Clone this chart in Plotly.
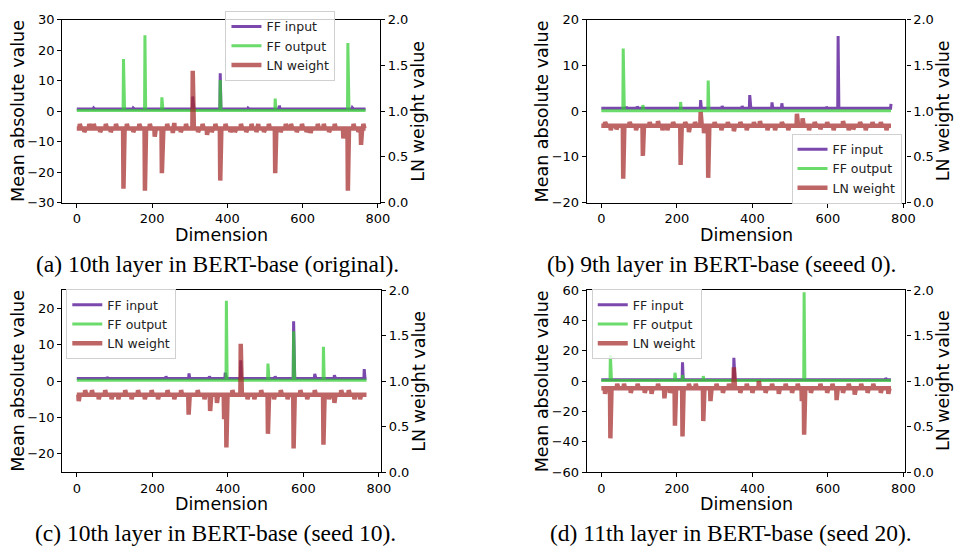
import plotly.graph_objects as go

N_DIM = 768
FONT = "DejaVu Sans"
SERIF = "Liberation Serif"

# ---------------- panel data: baseline + per-dimension outliers ----------------
# (a) 10th layer, original
a_in_base, a_in_dims, a_in_vals = 0.7, [45, 150, 240, 308, 381, 455, 538, 600, 732], [1.0, 1.0, 0.9, 4.8, 12.4, 1.0, 1.8, 0.9, 1.1]
a_out_base, a_out_dims, a_out_vals = 0.2, [124, 181, 226, 381, 527, 720], [17.1, 24.9, 4.5, 10.2, 4.1, 22.3]
a_ln_base = 0.81
a_ln_dims = [8, 20, 33, 45, 62, 77, 90, 104, 124, 133, 150, 166, 181, 194, 207, 226, 240, 255, 259, 276,
             290, 308, 322, 334, 346, 358, 368, 381, 395, 408, 420, 436, 450, 464, 477, 482, 497, 510, 527,
             541, 555, 569, 584, 598, 610, 621, 640, 656, 670, 685, 708, 720, 735, 748, 755, 761]
a_ln_vals = [0.86, 0.77, 0.86, 0.86, 0.77, 0.86, 0.77, 0.86, 0.15, 0.86, 0.77, 0.86, 0.13, 0.86, 0.72, 0.32,
             0.86, 0.76, 0.87, 0.77, 0.86, 1.44, 0.77, 0.86, 0.74, 0.77, 0.86, 0.24, 0.86, 0.77, 0.77, 0.86,
             0.77, 0.86, 0.77, 0.86, 0.77, 0.86, 0.32, 0.77, 0.86, 0.86, 0.77, 0.86, 0.77, 0.76, 0.86, 0.86,
             0.77, 0.86, 0.70, 0.13, 0.86, 0.77, 0.63, 0.86]

# (b) 9th layer, seed 0
b_in_base, b_in_dims, b_in_vals = 0.6, [66, 95, 263, 320, 373, 393, 452, 478, 596, 627, 767], [0.9, 1.0, 2.4, 1.1, 1.1, 3.5, 1.9, 1.7, 0.9, 16.4, 1.6]
b_out_base, b_out_dims, b_out_vals = 0.1, [58, 110, 210, 283], [13.7, 1.3, 2.0, 6.7]
b_ln_base = 0.84
b_ln_dims = [10, 25, 40, 58, 75, 92, 110, 128, 150, 162, 175, 190, 210, 222, 232, 248, 263, 272, 283, 300,
             318, 335, 351, 368, 385, 404, 420, 440, 460, 478, 495, 518, 533, 550, 565, 580, 598, 615, 640,
             655, 667, 685, 700, 718, 740, 755]
b_ln_vals = [0.88, 0.79, 0.80, 0.26, 0.88, 0.79, 0.51, 0.88, 0.89, 0.79, 0.79, 0.88, 0.41, 0.88, 0.77, 0.88,
             0.99, 0.76, 0.27, 0.88, 0.79, 0.88, 0.78, 0.88, 0.79, 0.88, 0.89, 0.79, 0.79, 0.88, 0.79, 0.97,
             0.92, 0.79, 0.88, 0.80, 0.88, 0.79, 0.89, 0.79, 0.80, 0.88, 0.79, 0.88, 0.88, 0.79]

# (c) 10th layer, seed 10
c_in_base, c_in_dims, c_in_vals = 0.7, [80, 236, 297, 351, 393, 434, 525, 574, 630, 682, 761], [1.1, 1.3, 2.1, 1.3, 2.3, 5.7, 1.3, 16.4, 2.0, 1.6, 3.3]
c_out_base, c_out_dims, c_out_vals = 0.2, [396, 506, 574, 653], [22.1, 4.8, 13.7, 9.4]
c_ln_base = 0.85
c_ln_dims = [5, 22, 40, 58, 75, 92, 110, 128, 145, 162, 180, 198, 215, 240, 258, 276, 296, 320, 338, 353,
             371, 390, 396, 412, 434, 452, 470, 488, 506, 522, 540, 558, 574, 592, 610, 630, 653, 668, 682,
             700, 720, 735, 750]
c_ln_vals = [0.78, 0.90, 0.90, 0.80, 0.90, 0.80, 0.80, 0.90, 0.80, 0.90, 0.80, 0.90, 0.80, 0.90, 0.80, 0.90,
             0.63, 0.90, 0.80, 0.67, 0.76, 0.58, 0.27, 0.90, 1.41, 0.80, 0.80, 0.90, 0.42, 0.80, 0.90, 0.80,
             0.26, 0.90, 0.80, 0.90, 0.30, 0.80, 0.76, 0.90, 0.90, 0.80, 0.80]

# (d) 11th layer, seed 20
d_in_base, d_in_dims, d_in_vals = 0.8, [215, 351, 753], [12.3, 15.3, 2.0]
d_out_base, d_out_dims, d_out_vals = 0.3, [24, 195, 215, 270, 537], [17.2, 5.5, 4.0, 3.3, 58.5]
d_ln_base = 0.92
d_ln_dims = [10, 24, 42, 60, 78, 96, 115, 133, 150, 167, 182, 195, 215, 232, 250, 270, 289, 305, 322, 338,
             351, 368, 385, 400, 417, 435, 452, 470, 488, 505, 520, 531, 537, 555, 580, 598, 612, 623, 640,
             655, 671, 688, 705, 720, 740, 760]
d_ln_vals = [0.86, 0.37, 0.97, 0.97, 0.87, 0.97, 0.87, 0.86, 0.97, 0.81, 0.87, 0.51, 0.39, 0.97, 0.97, 0.56,
             0.78, 0.97, 0.87, 0.97, 1.15, 0.87, 0.97, 0.87, 1.00, 0.87, 0.97, 0.86, 0.97, 0.87, 0.97, 0.78,
             0.41, 0.87, 0.97, 0.87, 0.97, 0.79, 0.87, 0.97, 0.85, 0.97, 0.87, 0.97, 0.87, 0.86]

# ---------------- axes / captions ----------------
x_ticks = [0, 200, 400, 600, 800]
ln_ticks = [0.0, 0.5, 1.0, 1.5, 2.0]
left_ranges = [(-30, 30), (-20, 20), (-25, 25), (-60, 60)]
left_ticks = [[-30, -20, -10, 0, 10, 20, 30], [-20, -10, 0, 10, 20], [-20, -10, 0, 10, 20], [-60, -40, -20, 0, 20, 40, 60]]
captions = ["(a) 10th layer in BERT-base (original).", "(b) 9th layer in BERT-base (seeed 0).",
            "(c) 10th layer in BERT-base (seed 10).", "(d) 11th layer in BERT-base (seed 20)."]
series_names = ["FF input", "FF output", "LN weight"]

W, H = 960, 552
# plot boxes in pixels: left, right, top, bottom
boxes = [(63, 384, 13, 201), (593, 915, 13, 201), (63, 385, 291, 478), (593, 915, 291, 478)]
caption_pos = [(220, 264), (729, 264), (218, 541), (739, 541)]
# legend anchors (x px, y px, xanchor, yanchor)
legend_pos = [(339, 4, "right", "top"), (911, 202, "right", "bottom"), (67, 290, "left", "top"), (598, 290, "left", "top")]

C_IN = "rgba(100,40,160,0.85)"
C_OUT = "rgba(50,205,50,0.72)"
C_LN = "rgba(165,42,42,0.72)"


def series(base, sdims, svals):
    y = [base] * N_DIM
    for d, v in zip(sdims, svals):
        y[d] = v
    return y


panels = [
    (series(a_in_base, a_in_dims, a_in_vals), series(a_out_base, a_out_dims, a_out_vals), series(a_ln_base, a_ln_dims, a_ln_vals)),
    (series(b_in_base, b_in_dims, b_in_vals), series(b_out_base, b_out_dims, b_out_vals), series(b_ln_base, b_ln_dims, b_ln_vals)),
    (series(c_in_base, c_in_dims, c_in_vals), series(c_out_base, c_out_dims, c_out_vals), series(c_ln_base, c_ln_dims, c_ln_vals)),
    (series(d_in_base, d_in_dims, d_in_vals), series(d_out_base, d_out_dims, d_out_vals), series(d_ln_base, d_ln_dims, d_ln_vals)),
]

dims = list(range(N_DIM))
fig = go.Figure()
layout = dict(width=W, height=H, margin=dict(l=0, r=0, t=0, b=0), showlegend=True,
              paper_bgcolor="white", plot_bgcolor="white", font=dict(family=FONT, size=13, color="black"))
annotations = []


def label(text, xp, yp, size, family=FONT, angle=0):
    return dict(text=text, x=xp / W, y=1 - yp / H, xref="paper", yref="paper", xanchor="center",
                yanchor="middle", textangle=angle, showarrow=False,
                font=dict(family=family, size=size, color="black"))


for i, (ffin, ffout, ln) in enumerate(panels):
    k = i + 1
    xname = "x" if k == 1 else f"x{k}"
    yl = 2 * i + 1
    yr = 2 * i + 2
    ylname = "y" if yl == 1 else f"y{yl}"
    yrname = f"y{yr}"
    leg = "legend" if k == 1 else f"legend{k}"

    fig.add_trace(go.Scatter(x=dims, y=ffin, mode="lines", name=series_names[0], xaxis=xname, yaxis=ylname,
                             line=dict(color=C_IN, width=3), legend=leg))
    fig.add_trace(go.Scatter(x=dims, y=ffout, mode="lines", name=series_names[1], xaxis=xname, yaxis=ylname,
                             line=dict(color=C_OUT, width=3), legend=leg))
    fig.add_trace(go.Scatter(x=dims, y=ln, mode="lines", name=series_names[2], xaxis=xname, yaxis=yrname,
                             line=dict(color=C_LN, width=4.5), legend=leg))

    l, r, t, b = boxes[i]
    xdom = [l / W, r / W]
    ydom = [1 - b / H, 1 - t / H]
    axis_common = dict(showline=True, linecolor="black", linewidth=1.2, ticks="outside", ticklen=4,
                       tickwidth=1, tickcolor="black", showgrid=False, zeroline=False,
                       tickfont=dict(family=FONT, size=13, color="black"))
    layout["xaxis" if k == 1 else f"xaxis{k}"] = dict(domain=xdom, anchor=ylname, range=[-38.35, 805.35],
                                                      tickvals=x_ticks, mirror=True, **axis_common)
    layout["yaxis" if yl == 1 else f"yaxis{yl}"] = dict(domain=ydom, anchor=xname, range=list(left_ranges[i]),
                                                        tickvals=left_ticks[i], **axis_common)
    layout[f"yaxis{yr}"] = dict(domain=ydom, anchor=xname, overlaying=ylname, side="right", range=[0, 2],
                                tickvals=ln_ticks, tickformat=".1f", **axis_common)

    lx, ly, lxa, lya = legend_pos[i]
    layout[leg] = dict(x=lx / W, y=1 - ly / H, xanchor=lxa, yanchor=lya, xref="paper", yref="paper",
                       bgcolor="rgba(255,255,255,0.8)", bordercolor="#d0d0d0", borderwidth=1,
                       font=dict(family=FONT, size=12.5, color="#222"), itemwidth=30, tracegroupgap=0)

    cy = (t + b) / 2
    annotations.append(label("Mean absolute value", l - 45, cy, 17.5, angle=-90))
    annotations.append(label("LN weight value", r + 38, cy, 17.5, angle=-90))
    annotations.append(label("Dimension", (l + r) / 2, b + 33, 17.5))
    cx, cyc = caption_pos[i]
    annotations.append(label(captions[i], cx, cyc, 23.5, family=SERIF))

layout["annotations"] = annotations
fig.update_layout(**layout)
fig.write_html("out.html")
